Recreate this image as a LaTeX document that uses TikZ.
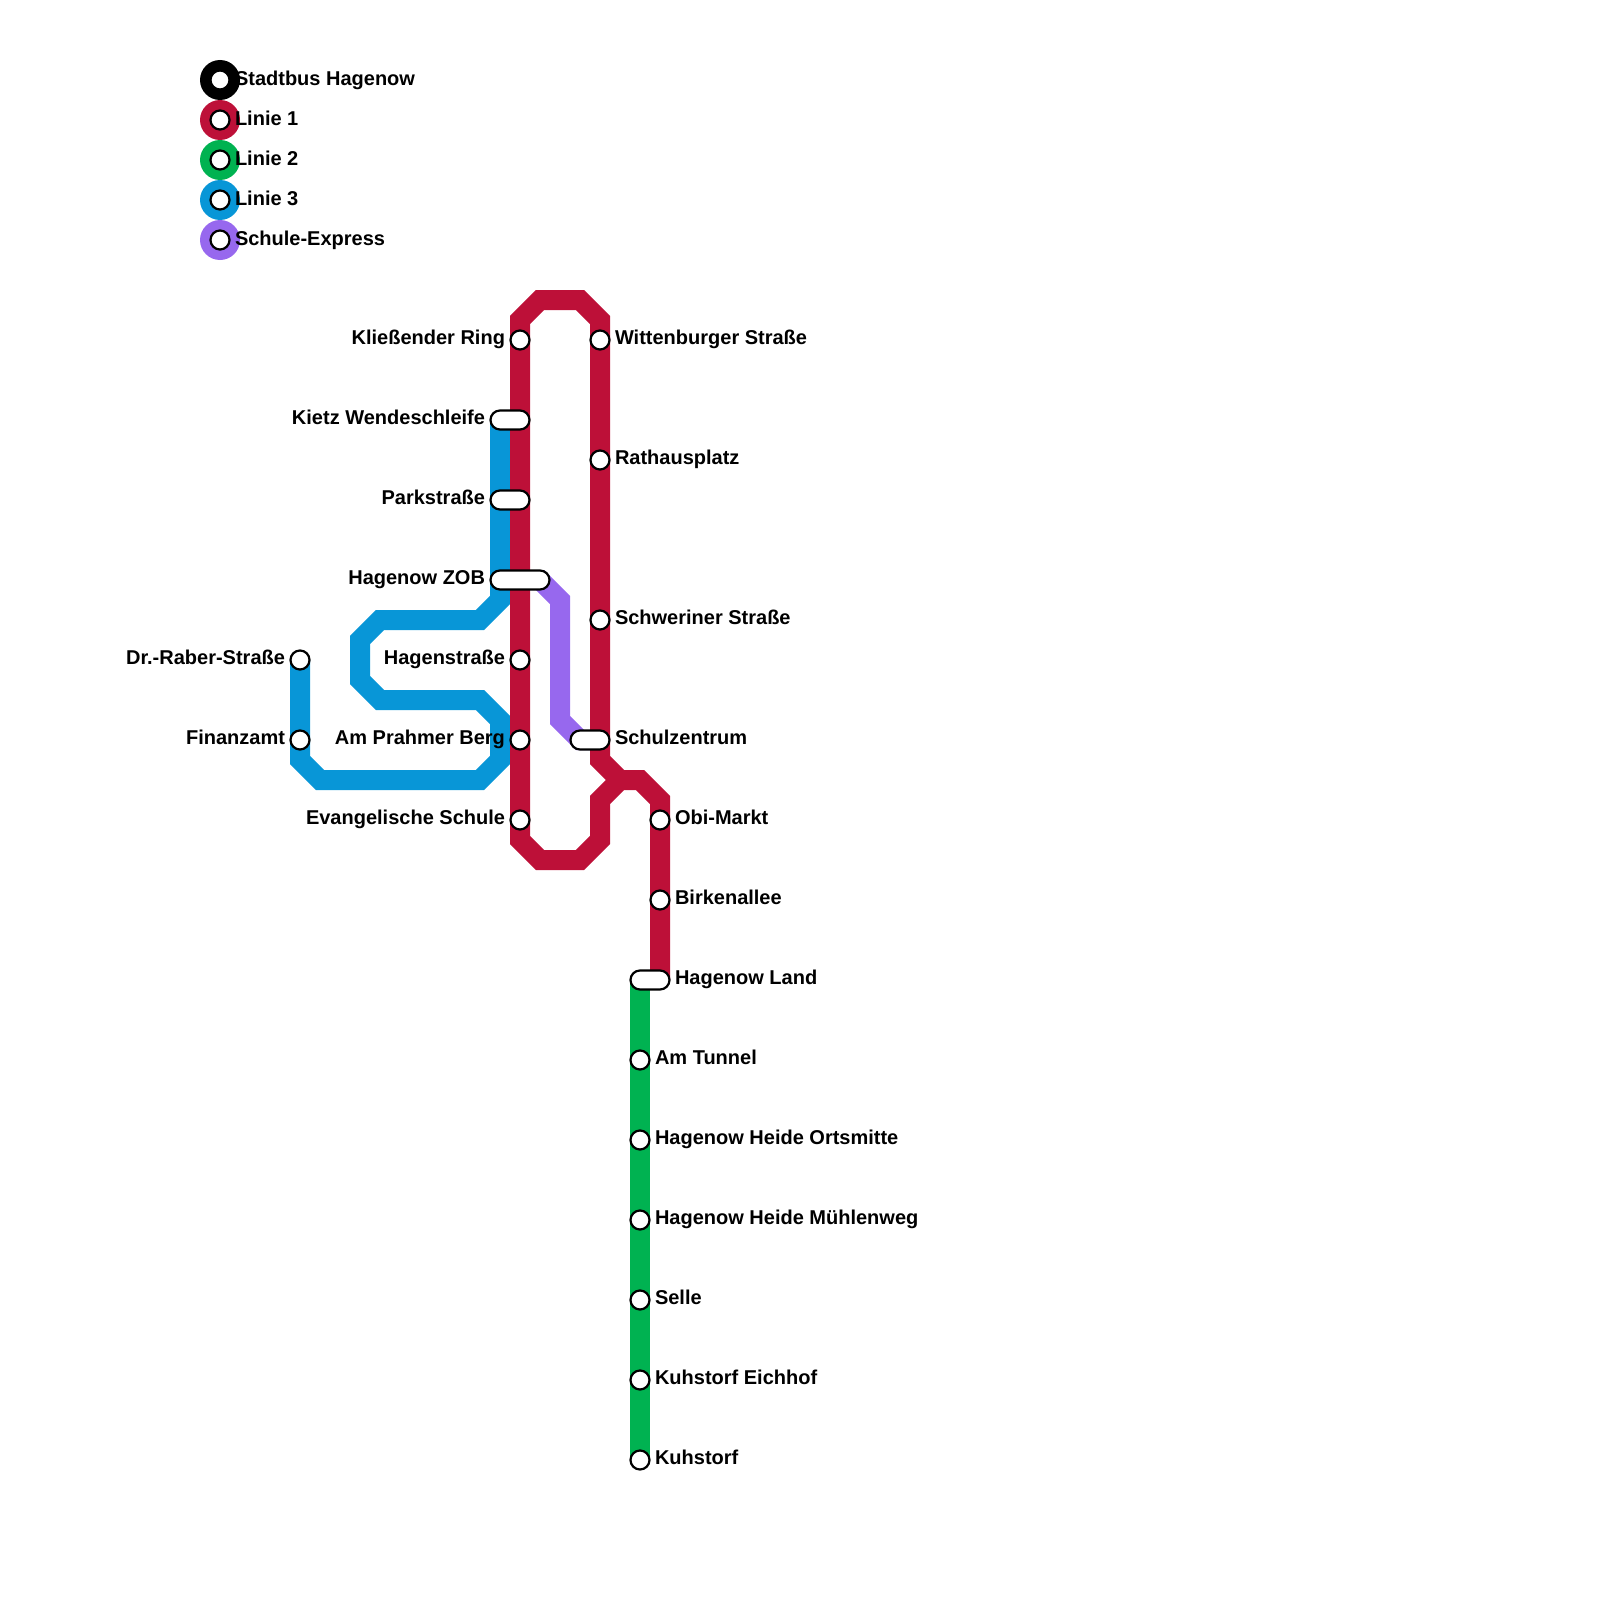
\documentclass[tikz,border=0pt]{standalone}
\usepackage{fontspec}
\setmainfont{Liberation Sans}
\usetikzlibrary{backgrounds,shapes.misc}
\definecolor{lred}{HTML}{BD1038}
\definecolor{lgreen}{HTML}{00B251}
\definecolor{lblue}{HTML}{0896D7}
\definecolor{lpurple}{HTML}{9768EE}
\tikzset{
  route/.style={line width=20pt,miter limit=10,line join=miter},
  stn/.style={circle,draw=black,fill=white,line width=2.2pt,minimum size=19pt,inner sep=0pt,outer sep=0pt},
  pill/.style={rounded rectangle,draw=black,fill=white,line width=2.2pt,minimum height=19pt,inner sep=0pt,outer sep=0pt},
  lab/.style={font=\fontsize{20}{24}\selectfont\bfseries,inner sep=0pt,outer sep=0pt,text=black},
  labr/.style={lab,anchor=base west},
  labl/.style={lab,anchor=base east},
  legring/.style={circle,draw=none,minimum size=40pt,inner sep=0pt,outer sep=0pt},
}
\begin{document}
\begin{tikzpicture}[x=1pt,y=-1pt]
\useasboundingbox (0,0) rectangle (1600,1600);
% legend
\foreach \nm/\c/\y in {a/black/80,b/lred/120,c/lgreen/160,d/lblue/200,e/lpurple/240}{
  \node[legring,fill=\c] (ring\nm) at (220,\y) {};
  \node[stn] (dot\nm) at (220,\y) {};
}
\node[labr] (ta) at (235,85.5) {Stadtbus Hagenow};
\node[labr] (tb) at (235,125) {Linie 1};
\node[labr] (tc) at (235,165) {Linie 2};
\node[labr] (td) at (235,205) {Linie 3};
\node[labr] (te) at (235,245) {Schule-Express};
% stations
\node[stn] (kliess) at (520,340) {};
\node[pill,minimum width=39pt] (kietz) at (510,420) {};
\node[pill,minimum width=39pt] (park) at (510,500) {};
\node[pill,minimum width=59pt] (zob) at (520,580) {};
\node[stn] (hagen) at (520,660) {};
\node[stn] (prahmer) at (520,740) {};
\node[stn] (evang) at (520,820) {};
\node[stn] (witt) at (600,340) {};
\node[stn] (rat) at (600,460) {};
\node[stn] (schw) at (600,620) {};
\node[pill,minimum width=39pt] (schul) at (590,740) {};
\node[stn] (obi) at (660,820) {};
\node[stn] (birk) at (660,900) {};
\node[pill,minimum width=39pt] (land) at (650,980) {};
\node[stn] (tunnel) at (640,1060) {};
\node[stn] (orts) at (640,1140) {};
\node[stn] (muehl) at (640,1220) {};
\node[stn] (selle) at (640,1300) {};
\node[stn] (eich) at (640,1380) {};
\node[stn] (kuh) at (640,1460) {};
\node[stn] (raber) at (300,660) {};
\node[stn] (finanz) at (300,740) {};
% labels
\node[labl] (l1) at (505,344) {Kließender Ring};
\node[labl] (l2) at (485,424) {Kietz Wendeschleife};
\node[labl] (l3) at (485,504) {Parkstraße};
\node[labl] (l4) at (485,584) {Hagenow ZOB};
\node[labl] (l5) at (505,664) {Hagenstraße};
\node[labl] (l6) at (505,744) {Am Prahmer Berg};
\node[labl] (l7) at (505,824) {Evangelische Schule};
\node[labl] (l8) at (285,664) {Dr.-Raber-Straße};
\node[labl] (l9) at (285,744) {Finanzamt};
\node[labr] (r1) at (615,344) {Wittenburger Straße};
\node[labr] (r2) at (615,464) {Rathausplatz};
\node[labr] (r3) at (615,624) {Schweriner Straße};
\node[labr] (r4) at (615,744) {Schulzentrum};
\node[labr] (r5) at (675,824) {Obi-Markt};
\node[labr] (r6) at (675,904) {Birkenallee};
\node[labr] (r7) at (675,984) {Hagenow Land};
\node[labr] (r8) at (655,1064) {Am Tunnel};
\node[labr] (r9) at (655,1144) {Hagenow Heide Ortsmitte};
\node[labr] (r10) at (655,1224) {Hagenow Heide Mühlenweg};
\node[labr] (r11) at (655,1304) {Selle};
\node[labr] (r12) at (655,1384) {Kuhstorf Eichhof};
\node[labr] (r13) at (655,1464) {Kuhstorf};
% routes
\begin{scope}[on background layer]
\draw[route,lblue] (raber.center) -- (finanz.center) -- (300,760) -- (320,780) -- (480,780) -- (500,760) -- (500,720) -- (480,700) -- (380,700) -- (360,680) -- (360,640) -- (380,620) -- (480,620) -- (500,600) -- (500,420);
\draw[route,lpurple] (zob.center) -- (540,580) -- (560,600) -- (560,720) -- (580,740) -- (schul.center);
\draw[route,lgreen] (640,980) -- (kuh.center);
\draw[route,lred] (660,980) -- (obi.center) -- (660,800) -- (640,780) -- (620,780) -- (600,800) -- (600,840) -- (580,860) -- (540,860) -- (520,840) -- (evang.center) -- (kliess.center) -- (520,320) -- (540,300) -- (580,300) -- (600,320) -- (witt.center) -- (600,760) -- (620,780);
\end{scope}
\end{tikzpicture}
\end{document}
